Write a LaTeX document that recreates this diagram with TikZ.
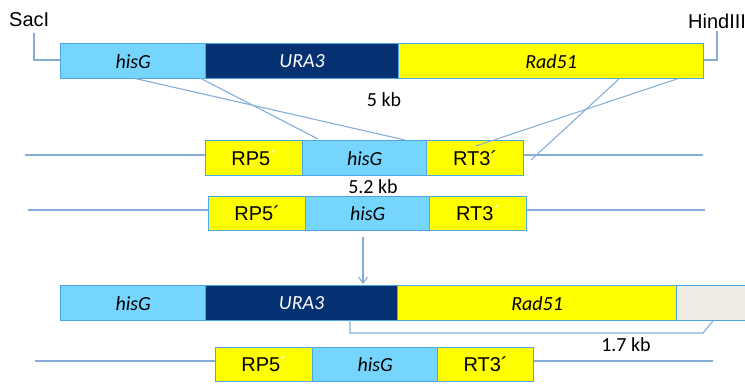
\documentclass[tikz,border=0pt]{standalone}
\usepackage{fontspec}
\setmainfont{Carlito}
\newfontfamily\arialf{Liberation Sans}
\usetikzlibrary{arrows.meta}

\definecolor{hisblue}{HTML}{75D5FD}
\definecolor{uranavy}{HTML}{053172}
\definecolor{radyellow}{HTML}{FFFF00}
\definecolor{segborder}{HTML}{4EA6E6}
\definecolor{thinline}{HTML}{86ADD9}
\definecolor{vecgray}{HTML}{F0EDE7}

\tikzset{
  seg/.style={draw=segborder, line width=1.3pt, inner sep=0pt, anchor=north west,
              font=\fontsize{20}{22}\selectfont},
  hisseg/.style={seg, fill=hisblue, font=\fontsize{20}{22}\selectfont\itshape},
  uraseg/.style={seg, fill=uranavy, text=white, font=\fontsize{20}{22}\selectfont\itshape},
  radseg/.style={seg, fill=radyellow, font=\fontsize{20}{22}\selectfont\itshape},
  flankseg/.style={seg, fill=radyellow, font=\arialf\fontsize{20}{22}\selectfont},
  graysseg/.style={seg, fill=vecgray},
  thin/.style={draw=thinline, line width=1.1pt},
  lbl/.style={inner sep=0pt, font=\fontsize{20}{22}\selectfont},
  sitelbl/.style={inner sep=0pt, anchor=west, font=\arialf\fontsize{20}{22}\selectfont}
}

\begin{document}
\begin{tikzpicture}[x=1pt, y=-1pt]
\useasboundingbox (0,0) rectangle (745,385);

% ---- plasmid construct: hisG-URA3-Rad51 ----
\node[hisseg, minimum width=145, minimum height=35] (h1) at (60,43) {hisG};
\node[uraseg, minimum width=193, minimum height=35] (u1) at (205,43) {URA3};
\node[radseg, minimum width=305, minimum height=35] (r1) at (398,43) {Rad51};

% restriction sites
\node[sitelbl] (sac) at (9,20) {SacI};
\node[sitelbl] (hind) at (688,21) {HindIII};
\coordinate (sacA) at (34,33);
\coordinate (sacB) at (34,60);
\coordinate (hindA) at (717,31);
\coordinate (hindB) at (717,60);
\draw[thin] (sacA) -- (sacB) -- (sacB -| h1.west);
\draw[thin] (hindA) -- (hindB) -- (hindB -| r1.east);

\node[lbl] (kb5) at (384,100) {5 kb};

% ---- genomic locus, first copy ----
\node[flankseg, minimum width=97, minimum height=35] (a2) at (205,140) {RP5\textcolor{white}{´}};
\node[hisseg, minimum width=124, minimum height=35] (h2) at (302,140) {hisG};
\node[flankseg, minimum width=97, minimum height=35] (b2) at (426,140) {RT3´};
\coordinate (l2) at (25,155);
\coordinate (r2) at (703,155);
\draw[thin] (l2) -- (l2 -| a2.west);
\draw[thin] (b2.east |- r2) -- (r2);

% crossover lines
\coordinate (c1a) at (133,78);  \coordinate (c1b) at (405,140);
\coordinate (c2a) at (200,78);  \coordinate (c2b) at (318,139);
\coordinate (c3a) at (620,78);  \coordinate (c3b) at (531,160);
\coordinate (c4a) at (680,78);  \coordinate (c4b) at (476,146);
\draw[thin] (c1a) -- (c1b);
\draw[thin] (c2a) -- (c2b);
\draw[thin] (c3a) -- (c3b);
\draw[thin] (c4a) -- (c4b);

\node[lbl] (kb52) at (373,187) {5.2 kb};

% ---- genomic locus, second copy ----
\node[flankseg, minimum width=97, minimum height=34] (a3) at (208,196) {RP5´};
\node[hisseg, minimum width=124, minimum height=34] (h3) at (305,196) {hisG};
\node[flankseg, minimum width=97, minimum height=34] (b3) at (429,196) {RT3\textcolor{white}{´}};
\coordinate (l3) at (28,210);
\coordinate (r3) at (705,210);
\draw[thin] (l3) -- (l3 -| a3.west);
\draw[thin] (b3.east |- r3) -- (r3);

% arrow down
\coordinate (ar1) at (363,237);
\coordinate (ar2) at (363,284);
\draw[thin, -{Straight Barb[length=6pt, width=9pt]}] (ar1) -- (ar2);

% ---- integrated construct ----
\node[hisseg, minimum width=145, minimum height=35] (h4) at (60,285) {hisG};
\node[uraseg, minimum width=192, minimum height=35] (u4) at (205,285) {URA3};
\node[radseg, minimum width=279, minimum height=35] (r4) at (397,285) {Rad51};
\node[graysseg, minimum width=75, minimum height=35] (g4) at (676,285) {};

% 1.7 kb bracket
\coordinate (br1) at (350,320);
\coordinate (br2) at (350,333);
\coordinate (br3) at (703,333);
\coordinate (br4) at (713,321);
\draw[thin] (br1) -- (br2) -- (br3) -- (br4);
\node[lbl] (kb17) at (626,345) {1.7 kb};

% ---- recombined locus ----
\node[flankseg, minimum width=97, minimum height=34] (a5) at (215,347) {RP5\textcolor{white}{´}};
\node[hisseg, minimum width=125, minimum height=34] (h5) at (312,347) {hisG};
\node[flankseg, minimum width=96, minimum height=34] (b5) at (437,347) {RT3´};
\coordinate (l5) at (35,361);
\coordinate (r5) at (713,361);
\draw[thin] (l5) -- (l5 -| a5.west);
\draw[thin] (b5.east |- r5) -- (r5);
\end{tikzpicture}
\end{document}
